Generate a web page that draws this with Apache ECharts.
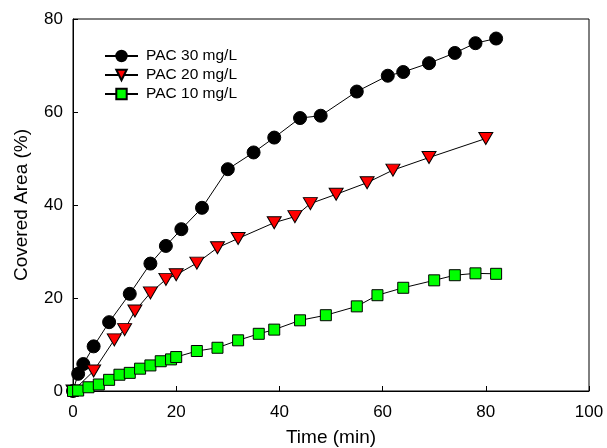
<!DOCTYPE html>
<html>
<head>
<meta charset="utf-8">
<title>Covered Area vs Time</title>
<script src="https://cdn.jsdelivr.net/npm/echarts@6/dist/echarts.min.js"></script>
<style>
  html, body { margin: 0; padding: 0; background: #fff; }
  #chart { width: 607px; height: 448px; }
</style>
</head>
<body>
<div id="chart"></div>
<script>
// Sampling times (min) and covered area (%) for each PAC dose
const time30 = [0, 1, 2, 4, 7, 11, 15, 18, 21, 25, 30, 35, 39, 44, 48, 55, 61, 64, 69, 74, 78, 82];
const area30 = [0, 3.7, 5.8, 9.6, 14.8, 20.9, 27.4, 31.2, 34.8, 39.4, 47.7, 51.3, 54.5, 58.7, 59.2, 64.4, 67.8, 68.6, 70.5, 72.7, 74.8, 75.8];

const time20 = [0, 4, 8, 10, 12, 15, 18, 20, 24, 28, 32, 39, 43, 46, 51, 57, 62, 69, 80];
const area20 = [0, 4.3, 11.0, 13.2, 17.2, 21.1, 24.0, 25.0, 27.5, 30.8, 32.8, 36.2, 37.5, 40.3, 42.3, 44.8, 47.5, 50.2, 54.3];

const time10 = [0, 1, 3, 5, 7, 9, 11, 13, 15, 17, 19, 20, 24, 28, 32, 36, 39, 44, 49, 55, 59, 64, 70, 74, 78, 82];
const area10 = [0, 0.1, 0.8, 1.4, 2.4, 3.5, 3.9, 4.8, 5.5, 6.4, 6.8, 7.3, 8.6, 9.3, 10.9, 12.3, 13.2, 15.2, 16.3, 18.2, 20.6, 22.2, 23.8, 24.9, 25.3, 25.2];

const seriesNames = ['PAC 30 mg/L', 'PAC 20 mg/L', 'PAC 10 mg/L'];
const xTicks = [0, 20, 40, 60, 80, 100];
const yTicks = [0, 20, 40, 60, 80];

const FONT = 'Liberation Sans, Arial, sans-serif';
const pairs = (xs, ys) => xs.map((x, i) => [x, ys[i]]);

const chart = echarts.init(document.getElementById('chart'), null, { renderer: 'canvas' });

const axisCommon = {
  axisLine: { show: true, lineStyle: { color: '#000', width: 1 } },
  axisTick: { show: true, inside: true, length: 5, lineStyle: { color: '#000', width: 1 } },
  splitLine: { show: false },
  nameLocation: 'middle',
  nameTextStyle: { color: '#000', fontSize: 19, fontFamily: FONT },
  axisLabel: { color: '#000', fontSize: 17, fontFamily: FONT }
};

chart.setOption({
  animation: false,
  backgroundColor: '#fff',
  grid: {
    left: 73, right: 18, top: 19, bottom: 57,
    outerBoundsMode: 'none', containLabel: false,
    show: true, borderColor: '#000', borderWidth: 1, backgroundColor: 'transparent'
  },
  legend: {
    left: 104, top: 47, padding: 0,
    orient: 'vertical',
    itemWidth: 33, itemHeight: 13, itemGap: 1,
    textStyle: { color: '#000', fontSize: 15.5, lineHeight: 18, fontFamily: FONT, padding: [0, 0, 0, 3] },
    data: seriesNames
  },
  xAxis: Object.assign({}, axisCommon, {
    type: 'value', min: xTicks[0], max: xTicks[xTicks.length - 1], interval: 20,
    name: 'Time (min)', nameGap: 37,
    axisLabel: Object.assign({}, axisCommon.axisLabel, { margin: 13 })
  }),
  yAxis: Object.assign({}, axisCommon, {
    type: 'value', min: yTicks[0], max: yTicks[yTicks.length - 1], interval: 20,
    name: 'Covered Area (%)', nameGap: 42,
    axisLabel: Object.assign({}, axisCommon.axisLabel, { margin: 10 })
  }),
  series: [
    {
      name: seriesNames[0], type: 'line', data: pairs(time30, area30),
      symbol: 'circle', symbolSize: 13,
      lineStyle: { color: '#000', width: 1 },
      itemStyle: { color: '#000', borderColor: '#000', borderWidth: 1 }
    },
    {
      name: seriesNames[1], type: 'line', data: pairs(time20, area20),
      symbol: 'triangle', symbolSize: [14, 12], symbolRotate: 180,
      lineStyle: { color: '#000', width: 1 },
      itemStyle: { color: '#ff0000', borderColor: '#000', borderWidth: 1 }
    },
    {
      name: seriesNames[2], type: 'line', data: pairs(time10, area10),
      symbol: 'rect', symbolSize: 11,
      lineStyle: { color: '#000', width: 1 },
      itemStyle: { color: '#00ff00', borderColor: '#000', borderWidth: 1 }
    }
  ]
});
</script>
</body>
</html>
